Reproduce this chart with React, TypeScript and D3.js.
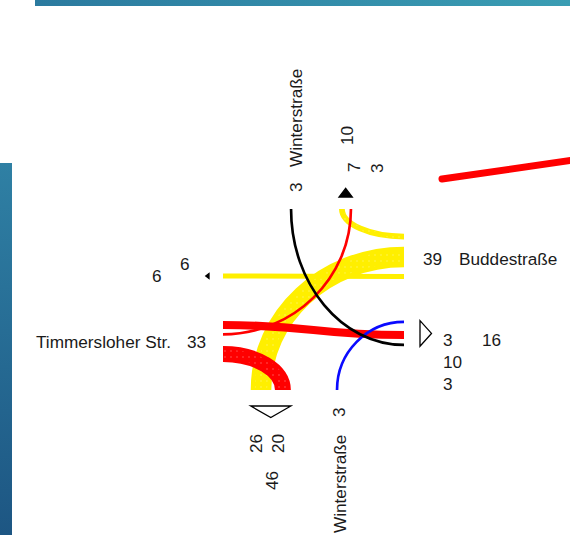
import React from "react";
import * as d3 from "d3";

const W = 570;
const H = 535;

// ---- data ----
// arms in order N, E, S, W
const armKeys = ["N", "E", "S", "W"];
const armNames = ["Winterstraße", "Buddestraße", "Winterstraße", "Timmersloher Str."];
const armInflow = [3, 39, 3, 33];
const armOutflow = [10, 16, 46, 6];
const armOutParts = [[7, 3], [3, 10, 3], [26, 20], [6]];

// flows (origin arm -> destination arm), volumes and lane positions (0..100 along the arm)
const flowFrom = ["E", "E", "E", "W", "W", "W", "S", "N"];
const flowTo = ["S", "N", "W", "S", "E", "N", "E", "E"];
const flowVolume = [26, 7, 6, 20, 10, 3, 3, 3];
const laneFrom = [26.5, 15.2, 37.3, 80.1, 64.1, 69.3, 63.0, 37.6];
const laneTo = [21.0, 65.7, 37.0, 33.1, 69.6, 70.7, 62.4, 75.1];

const originColor: Record<string, string> = {
  N: "#000000",
  E: "#ffef00",
  S: "#0a0aff",
  W: "#ff0000",
};

// ---- layout ----
const BOX = { x0: 223, x1: 404, y0: 209, y1: 390 };
const xs = d3.scaleLinear().domain([0, 100]).range([BOX.x0, BOX.x1]);
const ys = d3.scaleLinear().domain([0, 100]).range([BOX.y0, BOX.y1]);
const wScale = d3.scaleLinear().domain([0, 26]).range([0.3, 20.6]);

type P = [number, number];
function armPoint(arm: string, lane: number): P {
  if (arm === "N") return [xs(lane), ys(0)];
  if (arm === "S") return [xs(lane), ys(100)];
  if (arm === "E") return [xs(100), ys(lane)];
  return [xs(0), ys(lane)];
}
function inward(arm: string): P {
  if (arm === "N") return [0, 1];
  if (arm === "S") return [0, -1];
  if (arm === "E") return [-1, 0];
  return [1, 0];
}
function isStraight(a: string, b: string) {
  const i0 = inward(a);
  const i3 = inward(b);
  return i0[0] === -i3[0] && i0[1] === -i3[1];
}
function flowPath(a: string, b: string, la: number, lb: number) {
  const p0 = armPoint(a, la);
  const p3 = armPoint(b, lb);
  const i0 = inward(a);
  const i3 = inward(b);
  const k = isStraight(a, b) ? 0.5 : 0.552;
  const dx = Math.abs(p3[0] - p0[0]);
  const dy = Math.abs(p3[1] - p0[1]);
  const d0 = i0[0] !== 0 ? dx : dy;
  const d3v = i3[0] !== 0 ? dx : dy;
  const p1: P = [p0[0] + i0[0] * d0 * k, p0[1] + i0[1] * d0 * k];
  const p2: P = [p3[0] + i3[0] * d3v * k, p3[1] + i3[1] * d3v * k];
  const path = d3.path();
  path.moveTo(p0[0], p0[1]);
  path.bezierCurveTo(p1[0], p1[1], p2[0], p2[1], p3[0], p3[1]);
  return path.toString();
}

const arrowOffset: Record<string, number> = { N: 12, E: 16, S: 16, W: 14 };

function arrowPoints(arm: string) {
  const idx = flowTo.map((t, i) => (t === arm ? i : -1)).filter((i) => i >= 0);
  if (!idx.length) return "";
  const vertical = arm === "N" || arm === "S";
  const sc = vertical ? xs : ys;
  const lo = d3.min(idx, (i) => sc(laneTo[i]) - wScale(flowVolume[i]) / 2)!;
  const hi = d3.max(idx, (i) => sc(laneTo[i]) + wScale(flowVolume[i]) / 2)!;
  const span = hi - lo;
  const depth = Math.min(11.5, span * 0.65);
  const mid = (lo + hi) / 2;
  const off = arrowOffset[arm];
  let pts: P[] = [];
  if (arm === "S") {
    const b = BOX.y1 + off;
    pts = [[lo, b], [hi, b], [mid, b + depth]];
  } else if (arm === "N") {
    const b = BOX.y0 - off;
    pts = [[lo, b], [hi, b], [mid, b - depth]];
  } else if (arm === "E") {
    const b = BOX.x1 + off;
    pts = [[b, lo], [b, hi], [b + depth, mid]];
  } else {
    const b = BOX.x0 - off;
    pts = [[b, lo], [b, hi], [b - depth, mid]];
  }
  return pts.map((p) => p.join(",")).join(" ");
}

const FONT = "'Liberation Sans', Arial, sans-serif";
const FS = 17.2;
const TXT = "#1a1a1a";

function Label({ x, y, text, rot }: { x: number; y: number; text: string | number; rot?: boolean }) {
  return (
    <text
      transform={rot ? `translate(${x},${y}) rotate(-90)` : `translate(${x},${y})`}
      fontFamily={FONT}
      fontSize={FS}
      fill={TXT}
    >
      {text}
    </text>
  );
}

const drawOrder = ["E", "W", "S", "N"];

export default function App() {
  const order = d3
    .range(flowFrom.length)
    .sort((a, b) => drawOrder.indexOf(flowFrom[a]) - drawOrder.indexOf(flowFrom[b]) || a - b);

  return (
    <svg
      width={W}
      height={H}
      viewBox={`0 0 ${W} ${H}`}
      style={{ position: "absolute", left: 0, top: 0, background: "#ffffff" }}
    >
      <defs>
        <linearGradient id="topbar" x1="0" x2="1" y1="0" y2="0">
          <stop offset="0" stopColor="#2b7a9f" />
          <stop offset="1" stopColor="#3a9db3" />
        </linearGradient>
        <linearGradient id="leftbar" x1="0" x2="0" y1="0" y2="1">
          <stop offset="0" stopColor="#2f80a4" />
          <stop offset="1" stopColor="#1d5683" />
        </linearGradient>
        <pattern id="dots" width={6} height={6} patternUnits="userSpaceOnUse">
          <rect x={2.5} y={2.5} width={1} height={1} fill="#ffffff" />
        </pattern>
      </defs>
      <rect x={0} y={0} width={W} height={H} fill="#ffffff" />
      <rect x={35} y={0} width={W - 35} height={6} fill="url(#topbar)" />
      <rect x={0} y={163} width={12} height={H - 163} fill="url(#leftbar)" />

      {/* flows */}
      <g fill="none" strokeLinecap="butt">
        {order.map((i) => {
          const d = flowPath(flowFrom[i], flowTo[i], laneFrom[i], laneTo[i]);
          const w = wScale(flowVolume[i]);
          const textured = flowVolume[i] >= 7 && !isStraight(flowFrom[i], flowTo[i]);
          return (
            <g key={i}>
              <path d={d} stroke={originColor[flowFrom[i]]} strokeWidth={w} />
              {textured && (
                <path d={d} stroke="url(#dots)" strokeWidth={w * 0.6} opacity={0.6} />
              )}
            </g>
          );
        })}
      </g>

      {/* outflow arrows */}
      <g stroke="#000" strokeWidth={1.3} strokeLinejoin="miter">
        {armKeys.map((a) => (
          <polygon key={a} points={arrowPoints(a)} fill={a === "W" || a === "N" ? "#000" : "#fff"} />
        ))}
      </g>

      {/* North */}
      <Label x={302} y={167} text={armNames[0]} rot />
      <Label x={302} y={192} text={armInflow[0]} rot />
      <Label x={353} y={145} text={armOutflow[0]} rot />
      <Label x={360} y={172} text={armOutParts[0][0]} rot />
      <Label x={383} y={173} text={armOutParts[0][1]} rot />

      {/* East */}
      <Label x={423} y={265} text={armInflow[1]} />
      <Label x={459} y={265} text={armNames[1]} />
      <Label x={482} y={346} text={armOutflow[1]} />
      {armOutParts[1].map((v, j) => (
        <Label key={j} x={443} y={346 + j * 22} text={v} />
      ))}

      {/* South */}
      <Label x={345} y={417} text={armInflow[2]} rot />
      <Label x={346} y={533} text={armNames[2]} rot />
      <Label x={262} y={453} text={armOutParts[2][0]} rot />
      <Label x={284} y={453} text={armOutParts[2][1]} rot />
      <Label x={278} y={490} text={armOutflow[2]} rot />

      {/* West */}
      <Label x={36} y={348} text={armNames[3]} />
      <Label x={187} y={348} text={armInflow[3]} />
      <Label x={180} y={270} text={armOutParts[3][0]} />
      <Label x={152} y={282} text={armOutflow[3]} />

      {/* annotation stroke */}
      <line x1={442} y1={179} x2={574} y2={160} stroke="#ff0000" strokeWidth={7} strokeLinecap="round" />
    </svg>
  );
}
